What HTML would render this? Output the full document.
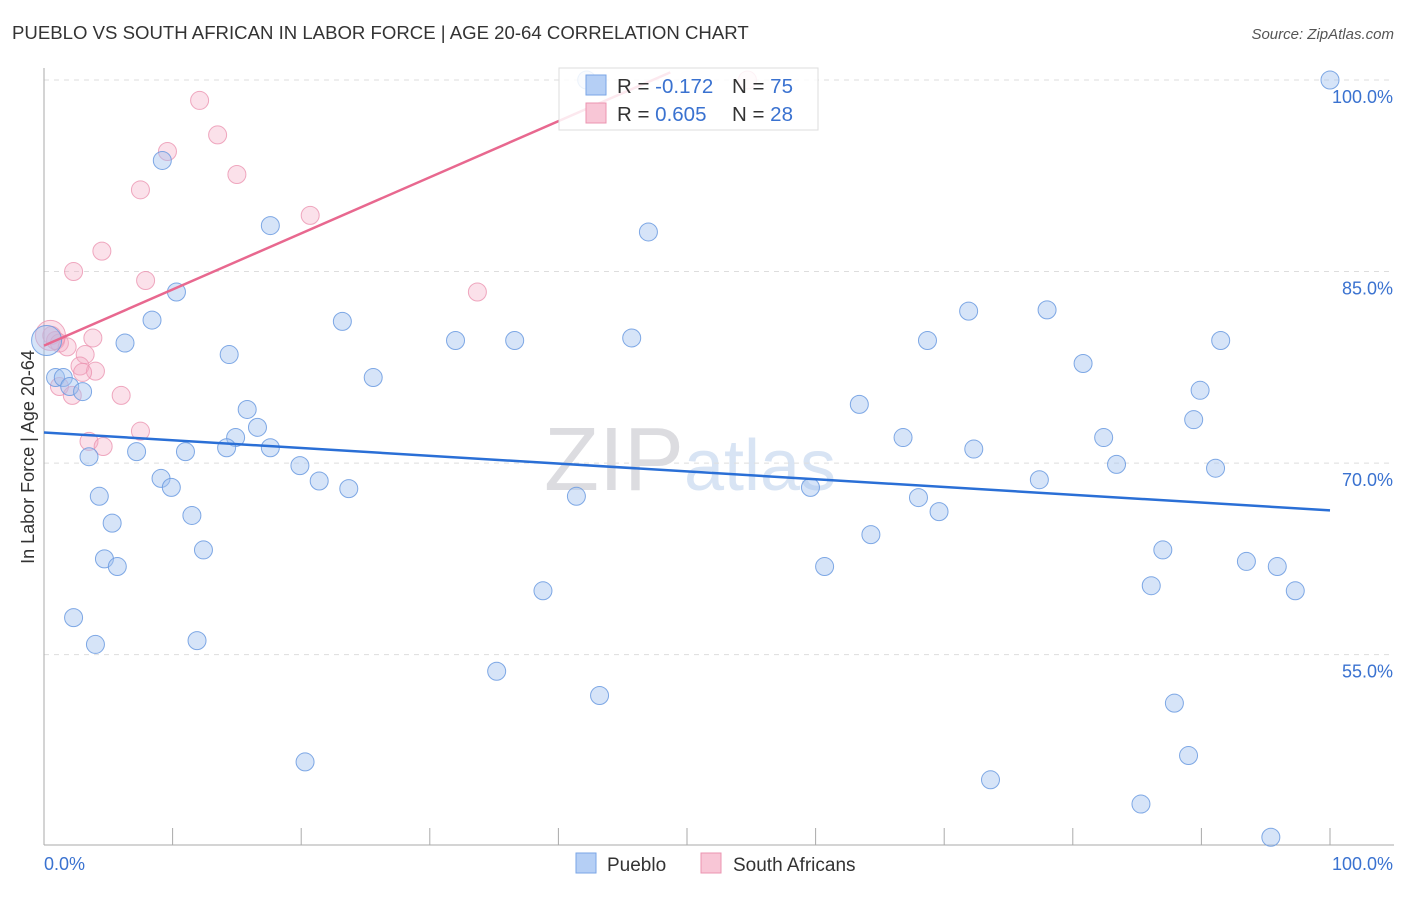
<!DOCTYPE html>
<html><head><meta charset="utf-8"><style>
body{margin:0;background:#fff;font-family:"Liberation Sans",sans-serif;}
svg text{font-family:"Liberation Sans",sans-serif;}
</style></head><body>
<svg id="chart" width="1406" height="892">
<text x="12" y="39" font-size="18.6" fill="#333">PUEBLO VS SOUTH AFRICAN IN LABOR FORCE | AGE 20-64 CORRELATION CHART</text>
<text x="1394" y="39" font-size="15" fill="#555" text-anchor="end" font-style="italic">Source: ZipAtlas.com</text>
<text x="690" y="490" font-size="90" fill="#e8e8ee" text-anchor="middle" font-family="Liberation Serif"><tspan fill="#dcdce0">ZIP</tspan><tspan fill="#d8e4f4" font-family="Liberation Sans" font-size="72">atlas</tspan></text>
<g id="grid"></g>
<g id="axes"></g>
<g id="pts"></g>
<g id="trend"></g>
<text transform="translate(34,457) rotate(-90)" font-size="18" fill="#333" text-anchor="middle">In Labor Force | Age 20-64</text>
<g>
<rect x="559" y="68" width="259" height="62" fill="#fff" fill-opacity="0.85" stroke="#ddd"/>
<rect x="586" y="75" width="20" height="20" fill="#b5cff5" stroke="#7aa6e6"/>
<rect x="586" y="103" width="20" height="20" fill="#f8c6d6" stroke="#eb94b0"/>
<text x="617" y="93" font-size="20.5" fill="#333">R = <tspan fill="#3a72d0">-0.172</tspan></text>
<text x="732" y="93" font-size="20.5" fill="#333">N = <tspan fill="#3a72d0">75</tspan></text>
<text x="617" y="121" font-size="20.5" fill="#333">R = <tspan fill="#3a72d0">0.605</tspan></text>
<text x="732" y="121" font-size="20.5" fill="#333">N = <tspan fill="#3a72d0">28</tspan></text>
</g>
<g>
<rect x="576" y="853" width="20" height="20" fill="#b5cff5" stroke="#7aa6e6"/>
<text x="607" y="871" font-size="19" fill="#333">Pueblo</text>
<rect x="701" y="853" width="20" height="20" fill="#f8c6d6" stroke="#eb94b0"/>
<text x="733" y="871" font-size="19" fill="#333">South Africans</text>
</g>
</svg>
<script>
const yTicks=[100,85,70,55];
const yTickLabels=["100.0%","85.0%","70.0%","55.0%"];
const xTickLabels=["0.0%","100.0%"];
const blueX=[42.2,100,9.2,17.6,47.0,10.3,8.4,23.2,71.9,78.0,6.3,32.0,36.6,45.7,68.7,91.5,14.4,0.9,1.5,25.6,80.8,2.0,3.0,89.9,63.4,15.8,89.4,16.6,14.9,66.8,82.4,14.2,17.6,72.3,7.2,11.0,3.5,19.9,83.4,91.1,9.1,9.9,21.4,77.4,23.7,59.6,4.3,41.4,68.0,69.6,11.5,5.3,64.3,12.4,87.0,4.7,5.7,60.7,93.5,95.9,86.1,97.3,38.8,2.3,11.9,4.0,35.2,43.2,87.9,20.3,89.0,73.6,85.3,95.4,0.2];
const blueY=[100,100,93.7,88.6,88.1,83.4,81.2,81.1,81.9,82.0,79.4,79.6,79.6,79.8,79.6,79.6,78.5,76.7,76.7,76.7,77.8,76.0,75.6,75.7,74.6,74.2,73.4,72.8,72.0,72.0,72.0,71.2,71.2,71.1,70.9,70.9,70.5,69.8,69.9,69.6,68.8,68.1,68.6,68.7,68.0,68.1,67.4,67.4,67.3,66.2,65.9,65.3,64.4,63.2,63.2,62.5,61.9,61.9,62.3,61.9,60.4,60.0,60.0,57.9,56.1,55.8,53.7,51.8,51.2,46.6,47.1,45.2,43.3,40.7,79.6];
const pinkX=[12.1,13.5,9.6,15.0,7.5,20.7,4.5,2.3,7.9,33.7,0.6,0.9,1.2,3.8,1.8,3.2,2.8,4.0,3.0,1.2,2.2,6.0,7.5,3.5,4.6,54.7,0.5];
const pinkY=[98.4,95.7,94.4,92.6,91.4,89.4,86.6,85.0,84.3,83.4,80.0,79.6,79.4,79.8,79.1,78.5,77.6,77.2,77.1,76.0,75.3,75.3,72.5,71.7,71.3,100,80.0];
const blueTrend=[72.4,66.3];
const pinkTrend=[79.2,100.6];
const pinkTrendEndX=48.7;
const NS="http://www.w3.org/2000/svg";
const X=v=>44+v*12.86, Y=v=>80+(100-v)*12.77;
function mk(tag,attrs,parent){const e=document.createElementNS(NS,tag);for(const k in attrs)e.setAttribute(k,attrs[k]);document.getElementById(parent).appendChild(e);return e;}
yTicks.forEach((t,i)=>{
 const l=mk('line',{x1:44,x2:1394,y1:Y(t),y2:Y(t),stroke:'#ddd','stroke-dasharray':'5,5'},'grid');
 
 
 const tx=mk('text',{x:1393,y:Y(t)+23,'font-size':18,fill:'#3a72d0','text-anchor':'end'},'grid');
 tx.textContent=yTickLabels[i];
 
 
});
const ax=mk('line',{x1:44,x2:44,y1:68,y2:845,stroke:'#aaa'},'axes');


const bx=mk('line',{x1:44,x2:1394,y1:845,y2:845,stroke:'#aaa'},'axes');


for(let i=0;i<=10;i++){const t=mk('line',{x1:X(i*10),x2:X(i*10),y1:828,y2:845,stroke:'#aaa'},'axes');
 
 }
[[0,'start',44],[100,'end',1393]].forEach((a,i)=>{const t=mk('text',{x:a[2],y:870,'font-size':18,fill:'#3a72d0','text-anchor':a[1]},'axes');t.textContent=xTickLabels[i];
 
 });
pinkX.forEach((x,i)=>{const big=i===pinkX.length-1;const c=mk('circle',{cx:X(x),cy:Y(pinkY[i]),r:big?15:9,fill:'#f4aac3','fill-opacity':0.35,stroke:'#eb94b0','stroke-opacity':0.8,'stroke-width':1},'pts');
 
 });
blueX.forEach((x,i)=>{const big=i===blueX.length-1;const c=mk('circle',{cx:X(x),cy:Y(blueY[i]),r:big?15:9,fill:'#a4c4f0','fill-opacity':0.45,stroke:'#6a9ae0','stroke-opacity':0.85,'stroke-width':1},'pts');
 
 });
const bt=mk('line',{x1:X(0),y1:Y(blueTrend[0]),x2:X(100),y2:Y(blueTrend[1]),stroke:'#2a6fd6','stroke-width':2.5},'trend');


const pt=mk('line',{x1:X(0),y1:Y(pinkTrend[0]),x2:X(pinkTrendEndX),y2:Y(pinkTrend[1]),stroke:'#e8688f','stroke-width':2.5},'trend');


</script>
</body></html>
